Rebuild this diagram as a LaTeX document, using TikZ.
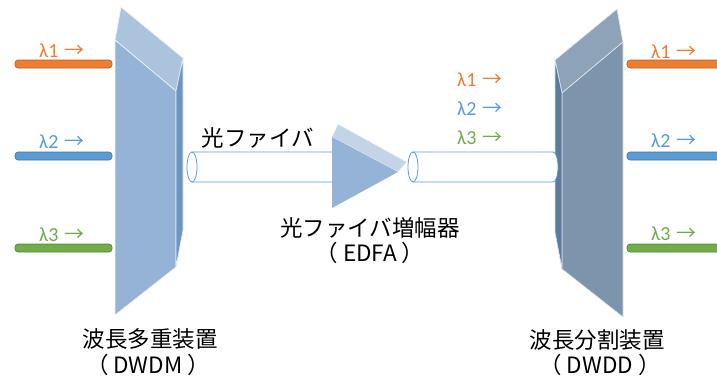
\documentclass[tikz,border=0pt]{standalone}
\usepackage{fontspec}
\setmainfont{Carlito}
\newfontfamily\jfont{Noto Sans CJK JP}
\definecolor{laorange}{HTML}{ED7D31}
\definecolor{lablue}{HTML}{5B9BD5}
\definecolor{lagreen}{HTML}{70AD47}
\definecolor{muxfront}{HTML}{95B3D7}
\definecolor{muxtop}{HTML}{ABC3DD}
\definecolor{muxside}{HTML}{6C96C2}
\definecolor{demuxfront}{HTML}{7D94AD}
\definecolor{demuxtop}{HTML}{8FA3B8}
\definecolor{demuxside}{HTML}{5A7B9E}
\definecolor{amptop}{HTML}{C3D4E6}
\newcommand{\arr}{\hspace{2pt}{\jfont →}}
\tikzset{
fibre/.pic={
  \draw[fill=white, draw=lablue, line width=0.8pt] (0,-15) -- (140,-15) arc(90:-90:5pt and 15pt) -- (0,15) -- cycle;
  \draw[fill=white, draw=lablue, line width=0.8pt] (0,0) ellipse (5pt and 15pt);
  },
prism/.pic={
  \filldraw[prismtop] (6,-33) -- (68,18) -- (61,51) -- (0,0) -- cycle;
  \filldraw[prismfront] (0,0) -- (61,51) -- (61,227) -- (0,275) -- cycle;
  \filldraw[prismside] (61,51) -- (68,18) -- (68,190) -- (61,227) -- cycle;
  },
prismtop/.style={fill=muxtop, draw=white!80!muxtop, line width=0.7pt},
prismfront/.style={fill=muxfront, draw=white!80!muxfront, line width=0.7pt},
prismside/.style={fill=muxside, draw=white!80!muxside, line width=0.7pt},
fibrebar/.style={fill=#1, draw=#1!75!black, rounded corners=3pt, line width=0.6pt},
lam/.style={text=#1, font=\fontsize{20}{22}\selectfont, inner sep=0pt},
jlabel/.style={font=\jfont\fontsize{22.5}{26}\selectfont, inner sep=0pt}
}
\begin{document}
\begin{tikzpicture}[x=1pt, y=-1pt]
\useasboundingbox (0,0) rectangle (717,378);
\foreach \c/\y in {laorange/64, lablue/156, lagreen/248} {
  \draw[fibrebar=\c] (15,\y-4) rectangle (112,\y+4);
  \draw[fibrebar=\c] (627,\y-4) rectangle (730,\y+4);
}
\pic at (115,40) {prism};
\pic[xscale=-1,
  prismtop/.style={fill=demuxtop, draw=white!75!demuxtop, line width=0.7pt},
  prismfront/.style={fill=demuxfront, draw=white!75!demuxfront, line width=0.7pt},
  prismside/.style={fill=demuxside, draw=white!75!demuxside, line width=0.7pt}]
  at (623,42) {prism};
\pic at (192,167) {fibre};
\pic at (413,167) {fibre};
\filldraw[fill=amptop, draw=white!80!amptop, line width=0.7pt] (332,137) -- (338,124) -- (407,162) -- (398,172) -- cycle;
\fill[muxfront] (332,137) -- (398,172) -- (332,208) -- cycle;
\node[lam=laorange] (in1) at (62,51) {λ1 \arr};
\node[lam=lablue] (in2) at (62,142) {λ2 \arr};
\node[lam=lagreen] (in3) at (62,235) {λ3 \arr};
\node[lam=laorange] (mid1) at (480,80) {λ1 \arr};
\node[lam=lablue] (mid2) at (480,109) {λ2 \arr};
\node[lam=lagreen] (mid3) at (480,138) {λ3 \arr};
\node[lam=laorange] (out1) at (674,52) {λ1 \arr};
\node[lam=lablue] (out2) at (674,141) {λ2 \arr};
\node[lam=lagreen] (out3) at (674,234) {λ3 \arr};
\node[jlabel] (fibretext) at (258,138) {光ファイバ};
\node[jlabel] (amptext) at (370,228) {光ファイバ増幅器};
\node[jlabel] (ampabbr) at (370,253) {（ EDFA ）};
\node[jlabel] (muxtext) at (150,339) {波長多重装置};
\node[jlabel] (muxabbr) at (148,365) {（ DWDM ）};
\node[jlabel] (demuxtext) at (597,340) {波長分割装置};
\node[jlabel] (demuxabbr) at (600,365) {（ DWDD ）};
\end{tikzpicture}
\end{document}
